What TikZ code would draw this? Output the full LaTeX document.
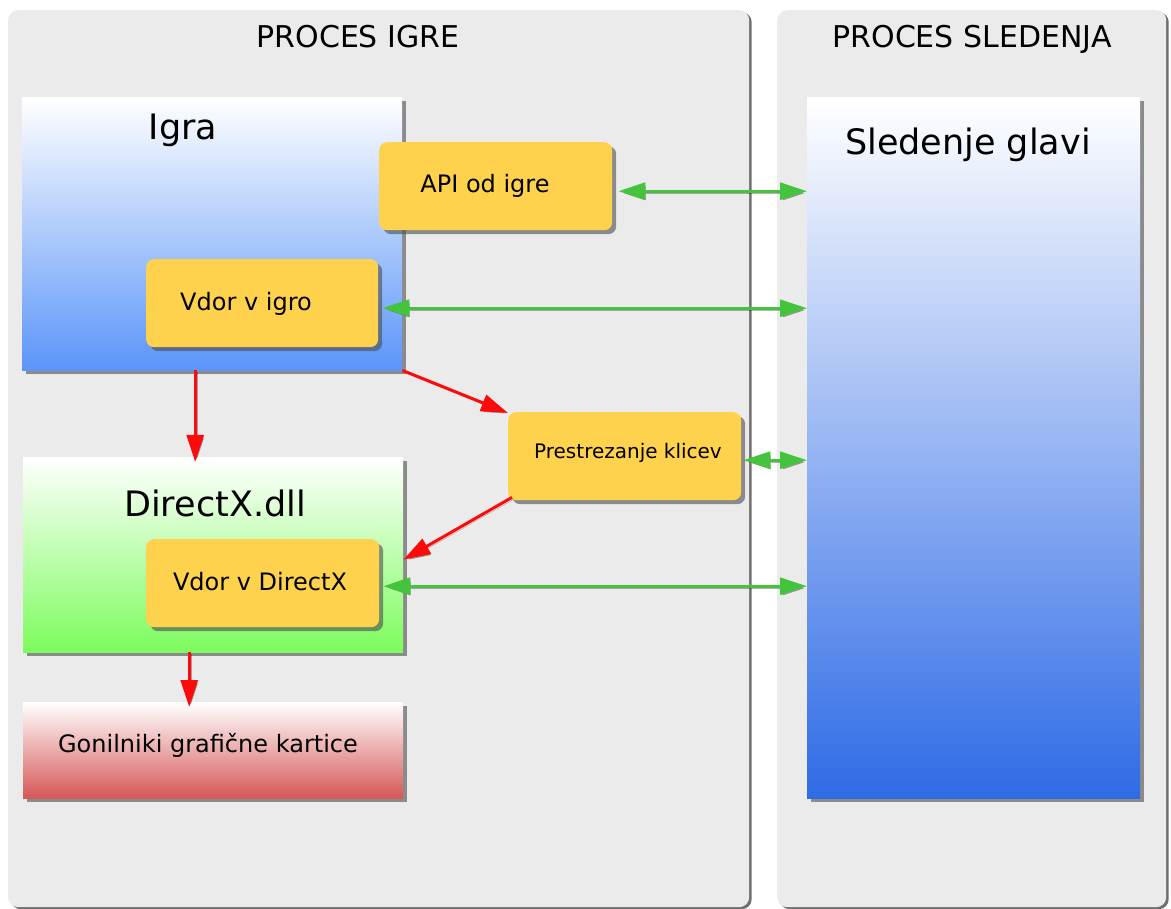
\documentclass[tikz,border=0pt]{standalone}
\usepackage{fontspec}
\setmainfont{DejaVu Sans}
\usetikzlibrary{arrows.meta,shadows}
\definecolor{panelgray}{HTML}{EBEBEB}
\definecolor{boxyellow}{HTML}{FFD24D}
\definecolor{igrablue}{HTML}{5B95F9}
\definecolor{sledblue}{HTML}{2E6BE6}
\definecolor{dxgreen}{HTML}{7DFC5D}
\definecolor{gonred}{HTML}{D65757}
\definecolor{arrgreen}{HTML}{44C33C}
\definecolor{arrred}{HTML}{FF0A0A}
\begin{document}
\begin{tikzpicture}[x=1pt,y=-1pt,
  panel/.style={draw=none, fill=panelgray, rounded corners=10pt, anchor=north west, inner sep=0,
    drop shadow={shadow xshift=2.5pt, shadow yshift=-2pt, opacity=0.75, fill=black!75}},
  bigbox/.style={anchor=north west, inner sep=0, draw=none,
    drop shadow={shadow xshift=4pt, shadow yshift=-4pt, opacity=0.6, fill=black!70}},
  ybox/.style={anchor=north west, inner sep=0, fill=boxyellow, draw=none, rounded corners=8pt,
    minimum width=233pt, minimum height=88pt,
    drop shadow={shadow xshift=4pt, shadow yshift=-4pt, opacity=0.6, fill=black!70}},
  title/.style={anchor=base, font=\fontsize{30}{34}\selectfont},
  bigtxt/.style={anchor=base, font=\fontsize{35}{40}\selectfont},
  txt/.style={anchor=base, font=\fontsize{24}{28}\selectfont},
  smalltxt/.style={anchor=base, font=\fontsize{20}{24}\selectfont},
  garrow/.style={draw=arrgreen, line width=3pt, {Triangle[length=27pt,width=17pt]}-{Triangle[length=27pt,width=17pt]},
    preaction={draw=black, opacity=0.3, transform canvas={xshift=1.5pt,yshift=-2pt}}},
  rarrow/.style={draw=arrred, line width=3pt, -{Triangle[length=27pt,width=17pt]},
    preaction={draw=black, opacity=0.3, transform canvas={xshift=1.5pt,yshift=-2pt}}}
]
\useasboundingbox[fill=white] (0,0) rectangle (1171,909);

% panels
\node[panel, minimum width=741pt, minimum height=897pt] (pigre) at (8,10) {};
\node[panel, minimum width=389pt, minimum height=897pt] (psled) at (777,10) {};
\node[title] (tigre) at (358,48) {PROCES IGRE};
\node[title] (tsled) at (972,48) {PROCES SLEDENJA};

% big boxes
\node[bigbox, minimum width=380pt, minimum height=273pt, top color=white, bottom color=igrablue] (igra) at (22,97) {};
\node[bigbox, minimum width=333pt, minimum height=701pt, top color=white, bottom color=sledblue] (sled) at (807,97) {};
\node[bigbox, minimum width=380pt, minimum height=195pt, top color=white, bottom color=dxgreen] (dx) at (23,457) {};
\node[bigbox, minimum width=380pt, minimum height=96pt, top color=white, bottom color=gonred] (gon) at (23,702) {};

\node[bigtxt] (tigra) at (183,140) {Igra};
\node[bigtxt] (tsledg) at (968,155) {Sledenje glavi};
\node[bigtxt] (tdx) at (215,516) {DirectX.dll};
\node[txt] (tgon) at (208,752) {Gonilniki grafične kartice};

% yellow boxes
\node[ybox] (api) at (379,142) {};
\node[ybox, minimum width=232pt] (vigro) at (146,259) {};
\node[ybox] (vdx) at (146,539) {};
\node[ybox] (pres) at (508,412) {};

\node[txt] (tapi) at (485,193) {API od igre};
\node[txt] (tvigro) at (246,311) {Vdor v igro};
\node[txt] (tvdx) at (260,590) {Vdor v DirectX};
\node[smalltxt] (tpres) at (628,459) {Prestrezanje klicev};

% green connectors
\coordinate (ga) at ([xshift=6pt,yshift=-5pt]api.east);
\coordinate (gb) at ([xshift=4pt,yshift=-5pt]vigro.east);
\coordinate (gc) at ([xshift=2pt,yshift=-4pt]pres.east);
\coordinate (gd) at ([xshift=4pt,yshift=-3pt]vdx.east);
\draw[garrow] (ga) -- (ga -| sled.west);
\draw[garrow] (gb) -- (gb -| sled.west);
\draw[garrow] (gc) -- (gc -| sled.west);
\draw[garrow] (gd) -- (gd -| sled.west);

% red connectors
\draw[rarrow] ([xshift=-17pt]igra.south) -- ([xshift=-18pt,yshift=-5pt]dx.north);
\draw[rarrow] (igra.south east) -- ([yshift=-1pt]pres.north west);
\draw[rarrow] ([xshift=4pt,yshift=3pt]pres.south west) -- ([yshift=-5pt]dx.east);
\draw[rarrow] ([xshift=-24pt]dx.south) -- ([xshift=-24pt,yshift=-5pt]gon.north);
\end{tikzpicture}
\end{document}
